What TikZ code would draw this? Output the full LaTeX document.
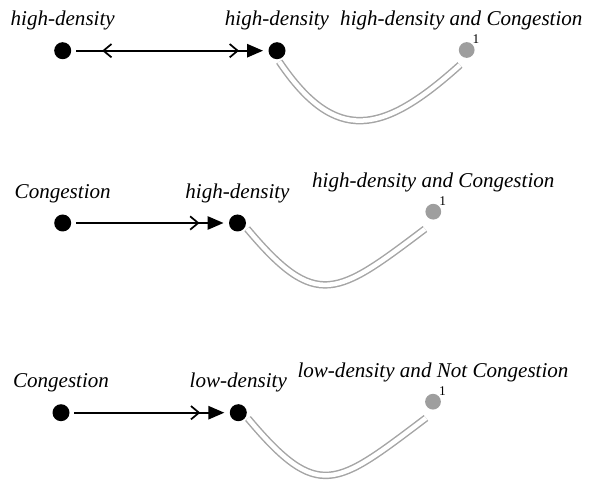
\documentclass[tikz,border=0pt]{standalone}
\usepackage{fontspec}
\setmainfont{Liberation Serif}
\usetikzlibrary{arrows.meta,positioning,decorations.markings}
\definecolor{lanegray}{RGB}{165,165,165}
\definecolor{dotgray}{RGB}{158,158,158}
\tikzset{
    state/.style={circle, fill=black, inner sep=0pt, minimum size=12.75pt},
    goal/.style={circle, fill=dotgray, inner sep=0pt, minimum size=11.8pt,
                 label={[font=\fontsize{10}{12}\selectfont, inner sep=0pt,
                         label distance=0pt]north east:1}},
    tag/.style={font=\itshape\fontsize{15.8}{18}\selectfont, inner sep=0pt},
    flow/.style={line width=1.3pt, shorten <=3.5pt, shorten >=3.9pt,
                 -{Straight Barb[length=6pt,width=10pt,sep=6pt]
                   Triangle[length=12pt,width=10pt]}},
    backtip/.style={postaction={decorate, decoration={markings,
                 mark=at position 23pt with
                 {\arrowreversed[line width=1.3pt]{Straight Barb[length=6pt,width=10pt]}}}}},
    lane/.style={draw=lanegray, line width=1.1pt, double=white,
                 double distance=3.4pt, shorten <=2pt},
}

\begin{document}
\begin{tikzpicture}[x=0.75pt, y=0.75pt]
    \path[use as bounding box] (0,0) rectangle (590,-481);

    % first row
    \node[state] (l1) at (62.7,-50.7) {};
    \node[state] (m1) at (277,-50.7) {};
    \node[goal] (g1) at (466.7,-50) {};
    \coordinate (e1) at (460,-65);
    \node[tag, above=8.5pt of l1] (t1a) {high-density};
    \node[tag, above=8.5pt of m1] (t1b) {high-density};
    \node[tag, above=8.5pt of g1, xshift=-4pt] (t1c) {high-density and Congestion};
    \draw[flow, backtip] (l1) -- (m1);
    \draw[lane] (m1.-85) to[out=-56, in=-138, looseness=1.45] (e1);

    % second row
    \node[state] (l2) at (62.7,-223) {};
    \node[state] (m2) at (237.5,-223) {};
    \node[goal] (g2) at (433.3,-211.7) {};
    \coordinate (e2) at (425,-229);
    \node[tag, above=8.5pt of l2] (t2a) {Congestion};
    \node[tag, above=8.5pt of m2] (t2b) {high-density};
    \node[tag, above=8.5pt of g2] (t2c) {high-density and Congestion};
    \draw[flow] (l2) -- (m2);
    \draw[lane] (m2.-25) to[out=-50, in=-143, looseness=1.57] (e2);

    % third row
    \node[state] (l3) at (61,-412.7) {};
    \node[state] (m3) at (238.3,-412.7) {};
    \node[goal] (g3) at (433,-401.7) {};
    \coordinate (e3) at (426,-418);
    \node[tag, above=8.5pt of l3] (t3a) {Congestion};
    \node[tag, above=8.5pt of m3] (t3b) {low-density};
    \node[tag, above=8.5pt of g3] (t3c) {low-density and Not Congestion};
    \draw[flow] (l3) -- (m3);
    \draw[lane] (m3.-25) to[out=-50, in=-143, looseness=1.6] (e3);

\end{tikzpicture}
\end{document}
